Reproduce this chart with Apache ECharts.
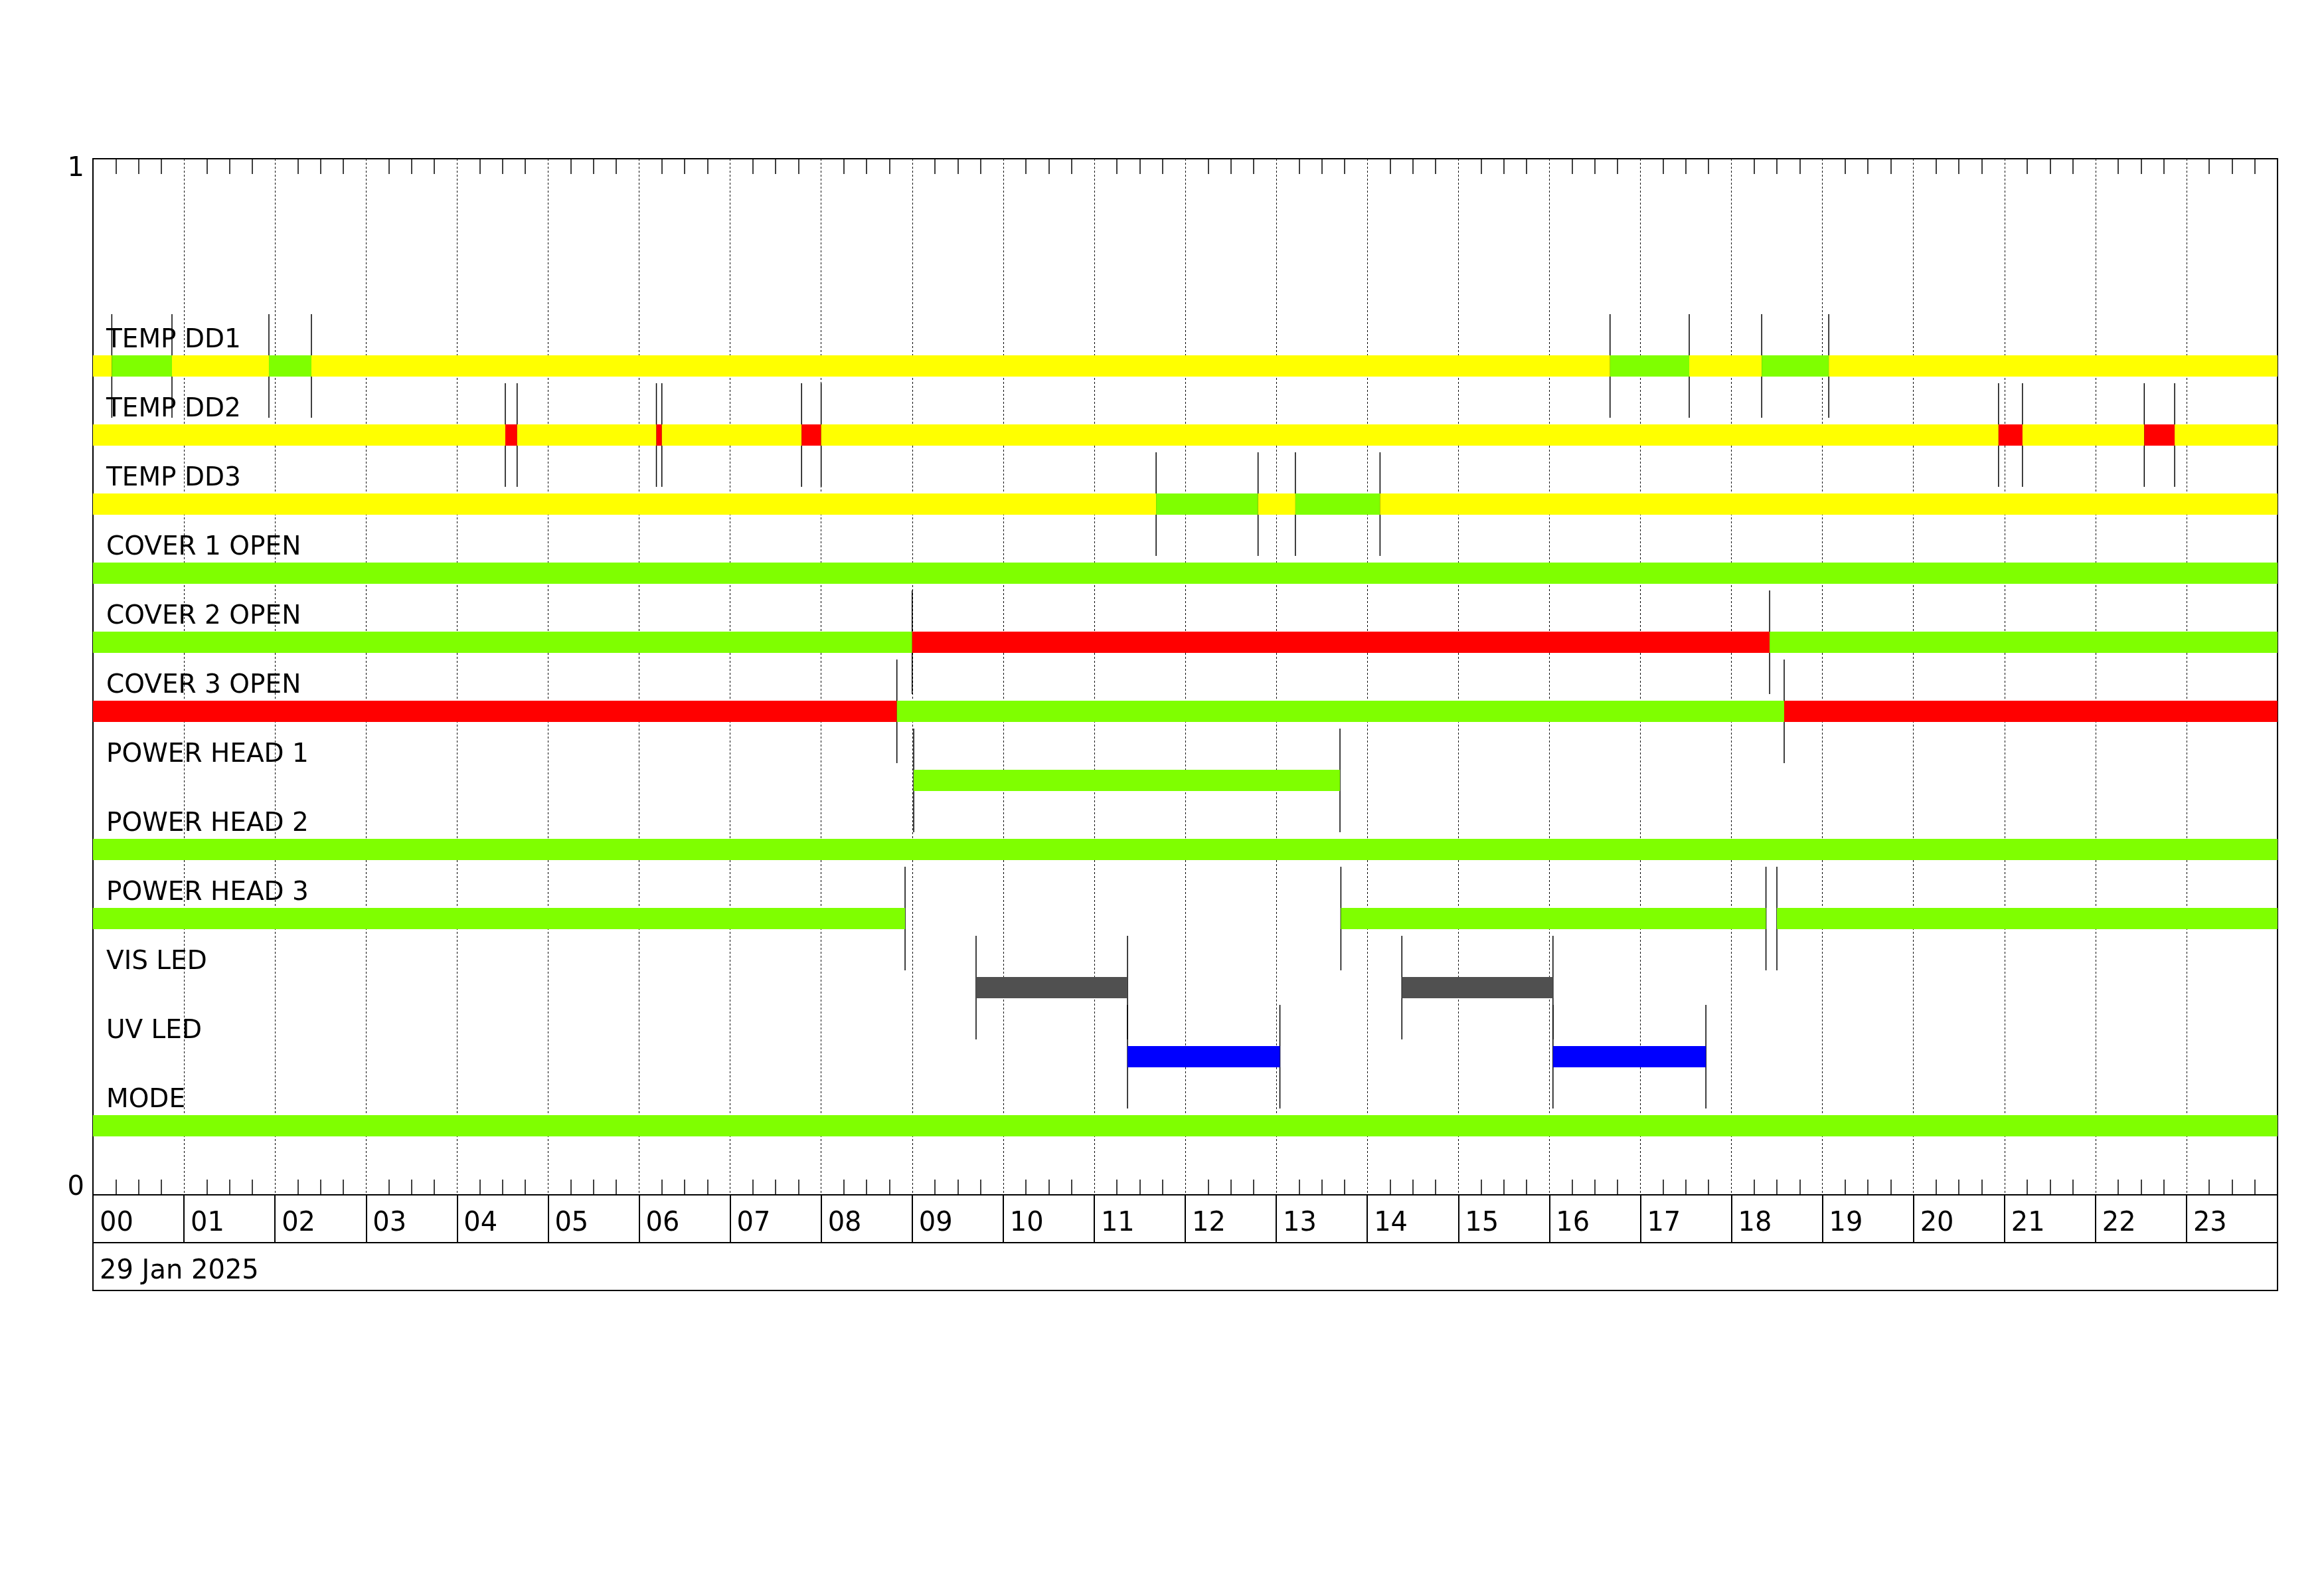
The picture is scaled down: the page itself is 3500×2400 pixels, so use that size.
<!DOCTYPE html>
<html>
<head>
<meta charset="utf-8">
<title>Status timeline 29 Jan 2025</title>
<script src="https://cdn.jsdelivr.net/npm/echarts@6/dist/echarts.min.js"></script>
<style>
  html, body { margin: 0; padding: 0; background: #fff; }
  #chart { width: 3500px; height: 2400px; }
</style>
</head>
<body>
<div id="chart"></div>
<script>
// hour cells under the plot and the date row
const hourLabels = ['00', '01', '02', '03', '04', '05', '06', '07', '08', '09', '10', '11',
  '12', '13', '14', '15', '16', '17', '18', '19', '20', '21', '22', '23'];
const dateLabel = '29 Jan 2025';

const rowNames = ['TEMP DD1', 'TEMP DD2', 'TEMP DD3', 'COVER 1 OPEN', 'COVER 2 OPEN', 'COVER 3 OPEN',
  'POWER HEAD 1', 'POWER HEAD 2', 'POWER HEAD 3', 'VIS LED', 'UV LED', 'MODE'];

// [start hour, end hour, state]
const tempDD1 = [[0, 0.207, 'yellow'], [0.207, 0.868, 'green'], [0.868, 1.933, 'yellow'], [1.933, 2.4, 'green'],
  [2.4, 16.667, 'yellow'], [16.667, 17.537, 'green'], [17.537, 18.333, 'yellow'], [18.333, 19.07, 'green'],
  [19.07, 24, 'yellow']];
const tempDD2 = [[0, 4.53, 'yellow'], [4.53, 4.66, 'red'], [4.66, 6.19, 'yellow'], [6.19, 6.25, 'red'],
  [6.25, 7.785, 'yellow'], [7.785, 8.0, 'red'], [8.0, 20.935, 'yellow'], [20.935, 21.198, 'red'],
  [21.198, 22.536, 'yellow'], [22.536, 22.87, 'red'], [22.87, 24, 'yellow']];
const tempDD3 = [[0, 11.68, 'yellow'], [11.68, 12.8, 'green'], [12.8, 13.21, 'yellow'], [13.21, 14.14, 'green'],
  [14.14, 24, 'yellow']];
const cover1 = [[0, 24, 'green']];
const cover2 = [[0, 9.0, 'green'], [9.0, 18.42, 'red'], [18.42, 24, 'green']];
const cover3 = [[0, 8.832, 'red'], [8.832, 18.58, 'green'], [18.58, 24, 'red']];
const powerHead1 = [[0, 9.017, 'off'], [9.017, 13.7, 'green'], [13.7, 24, 'off']];
const powerHead2 = [[0, 24, 'green']];
const powerHead3 = [[0, 8.922, 'green'], [8.922, 13.71, 'off'], [13.71, 18.38, 'green'], [18.38, 18.5, 'off'],
  [18.5, 24, 'green']];
const visLed = [[0, 9.702, 'off'], [9.702, 11.366, 'grey'], [11.366, 14.38, 'off'], [14.38, 16.04, 'grey'],
  [16.04, 24, 'off']];
const uvLed = [[0, 11.366, 'off'], [11.366, 13.04, 'blue'], [13.04, 16.04, 'off'], [16.04, 17.72, 'blue'],
  [17.72, 24, 'off']];
const mode = [[0, 24, 'green']];

const rows = [tempDD1, tempDD2, tempDD3, cover1, cover2, cover3, powerHead1, powerHead2, powerHead3, visLed, uvLed, mode];

const stateColors = {
  yellow: '#ffff00',
  green: '#7fff00',
  red: '#ff0000',
  grey: '#505050',
  blue: '#0000ff',
  off: null
};

const FONT = 'DejaVu Sans';
const BAR_HALF = 0.0103;   // half bar height in y units
const MARK_HALF = 0.05;    // half length of the change markers

// each row sits on its own level of the 0..1 axis
const levelOf = (i) => (rows.length - i) / 15;

const segData = [];
rows.forEach((segs, i) => {
  segs.forEach(s => segData.push([s[0], s[1], levelOf(i), s[2]]));
});
const labelData = rowNames.map((n, i) => [0, levelOf(i)]);

const chart = echarts.init(document.getElementById('chart'), null, { renderer: 'canvas' });

const option = {
  animation: false,
  backgroundColor: '#fff',
  grid: [
    { left: 140, top: 239, width: 3290, height: 1560, show: true, borderColor: '#000', borderWidth: 2, outerBoundsMode: 'none' },
    { left: 140, top: 1799, width: 3290, height: 72, show: true, borderColor: '#000', borderWidth: 2, outerBoundsMode: 'none' },
    { left: 140, top: 1871, width: 3290, height: 72, show: true, borderColor: '#000', borderWidth: 2, outerBoundsMode: 'none' }
  ],
  xAxis: [
    {
      gridIndex: 0, type: 'value', min: 0, max: 24, interval: 1, position: 'bottom',
      axisLine: { show: true, onZero: false, lineStyle: { color: '#000', width: 2 } },
      axisTick: { show: false, inside: true },
      minorTick: { show: true, splitNumber: 4, length: 23, lineStyle: { color: '#000', width: 1.5 } },
      axisLabel: { show: false },
      splitLine: { show: true, lineStyle: { color: '#000', width: 1, type: [3, 3] } }
    },
    {
      gridIndex: 0, type: 'value', min: 0, max: 24, interval: 1, position: 'top',
      axisLine: { show: true, onZero: false, lineStyle: { color: '#000', width: 2 } },
      axisTick: { show: false, inside: true },
      minorTick: { show: true, splitNumber: 4, length: 23, lineStyle: { color: '#000', width: 1.5 } },
      axisLabel: { show: false },
      splitLine: { show: false }
    },
    {
      gridIndex: 1, type: 'value', min: 0, max: 24, interval: 1, position: 'top',
      axisLine: { show: false, onZero: false },
      axisTick: { show: false },
      axisLabel: {
        show: true, inside: true, margin: 44, align: 'left', verticalAlign: 'middle',
        padding: [0, 0, 0, 10],
        fontFamily: FONT, fontSize: 40, color: '#000',
        formatter: (v) => hourLabels[v] || ''
      },
      splitLine: { show: true, lineStyle: { color: '#000', width: 2, type: 'solid' } }
    },
    { gridIndex: 2, type: 'value', min: 0, max: 24, show: false, axisLine: { onZero: false } }
  ],
  yAxis: [
    {
      gridIndex: 0, type: 'value', min: 0, max: 1, interval: 1, position: 'left',
      axisLine: { show: false, onZero: false }, axisTick: { show: false }, splitLine: { show: false },
      axisLabel: {
        margin: 13, verticalAlign: 'top', lineHeight: 31,
        fontFamily: FONT, fontSize: 40, color: '#000',
        formatter: (v) => (v === 1 ? '1' : '')
      }
    },
    {
      gridIndex: 0, type: 'value', min: 0, max: 1, interval: 1, position: 'left',
      axisLine: { show: false, onZero: false }, axisTick: { show: false }, splitLine: { show: false },
      axisLabel: {
        margin: 13, verticalAlign: 'bottom', lineHeight: 20,
        fontFamily: FONT, fontSize: 40, color: '#000',
        formatter: (v) => (v === 0 ? '0' : '')
      }
    },
    { gridIndex: 1, type: 'value', min: 0, max: 1, show: false, axisLine: { onZero: false } },
    { gridIndex: 2, type: 'value', min: 0, max: 1, show: false, axisLine: { onZero: false } }
  ],
  graphic: [
    {
      type: 'text', x: 150, y: 1915,
      style: { text: dateLabel, fontFamily: FONT, fontSize: 40, fill: '#000', align: 'left', verticalAlign: 'middle' }
    }
  ],
  series: [
    {
      // change markers, under the bars
      name: 'markers',
      type: 'custom',
      xAxisIndex: 0, yAxisIndex: 0,
      z: 2,
      encode: { x: [0, 1], y: 2 },
      data: segData.map(d => [d[0], d[1], d[2]]),
      renderItem: function (params, api) {
        const p = api.coord([api.value(0), api.value(2)]);
        const h = api.size([0, MARK_HALF * 2])[1];
        return {
          type: 'line',
          shape: { x1: p[0], y1: p[1] - h / 2, x2: p[0], y2: p[1] + h / 2 },
          style: { stroke: '#000', lineWidth: 1.5 }
        };
      }
    },
    {
      name: 'states',
      type: 'custom',
      xAxisIndex: 0, yAxisIndex: 0,
      z: 3,
      encode: { x: [0, 1], y: 2 },
      data: segData.map(d => [d[0], d[1], d[2]]),
      renderItem: function (params, api) {
        const color = stateColors[segData[params.dataIndex][3]];
        if (!color) return null;
        const s = api.coord([api.value(0), api.value(2)]);
        const e = api.coord([api.value(1), api.value(2)]);
        const h = api.size([0, BAR_HALF * 2])[1];
        return {
          type: 'rect',
          shape: { x: s[0], y: s[1] - h / 2, width: e[0] - s[0], height: h },
          style: { fill: color }
        };
      }
    },
    {
      name: 'labels',
      type: 'custom',
      xAxisIndex: 0, yAxisIndex: 0,
      z: 4,
      data: labelData,
      renderItem: function (params, api) {
        const p = api.coord([api.value(0), api.value(1)]);
        return {
          type: 'text',
          x: p[0] + 20,
          y: p[1] - 38,
          style: {
            text: rowNames[params.dataIndex],
            fontFamily: FONT, fontSize: 39, fill: '#000',
            align: 'left', verticalAlign: 'middle'
          }
        };
      }
    }
  ]
};

chart.setOption(option);
</script>
</body>
</html>
